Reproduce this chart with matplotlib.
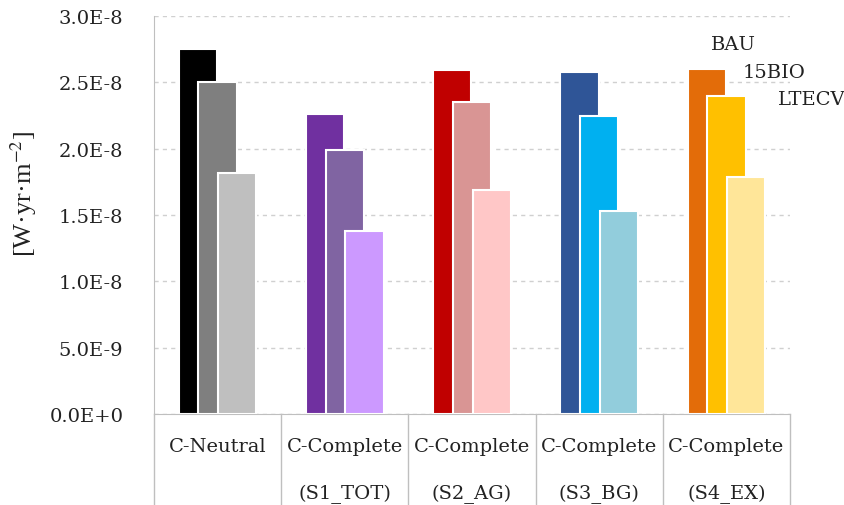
import matplotlib
matplotlib.use("Agg")
import matplotlib.pyplot as plt
import matplotlib.transforms as mtransforms

categories = ["C-Neutral", "C-Complete", "C-Complete", "C-Complete", "C-Complete"]
subtitles = ["", "(S1_TOT)", "(S2_AG)", "(S3_BG)", "(S4_EX)"]
scenarios = ["BAU", "15BIO", "LTECV"]

bau = [2.75e-8, 2.26e-8, 2.59e-8, 2.58e-8, 2.60e-8]
bio15 = [2.50e-8, 1.99e-8, 2.35e-8, 2.25e-8, 2.40e-8]
ltecv = [1.82e-8, 1.38e-8, 1.69e-8, 1.53e-8, 1.79e-8]

colors = [
    ["#000000", "#7f7f7f", "#bfbfbf"],
    ["#7030a0", "#8064a2", "#cc99ff"],
    ["#c00000", "#d99594", "#ffc7c7"],
    ["#2f5597", "#00b0f0", "#92cddc"],
    ["#e36c09", "#ffc000", "#ffe699"],
]

yticks = [0, 0.5e-8, 1.0e-8, 1.5e-8, 2.0e-8, 2.5e-8, 3.0e-8]
ytick_labels = ["0.0E+0", "5.0E-9", "1.0E-8", "1.5E-8", "2.0E-8", "2.5E-8", "3.0E-8"]


def main():
    plt.rcParams["font.family"] = ["DejaVu Serif"]
    plt.rcParams["mathtext.fontset"] = "stix"
    fig = plt.figure(figsize=(8.45, 5.06), dpi=100)
    ax = fig.add_axes([0.1822, 0.1798, 0.7528, 0.7866])

    series = [bau, bio15, ltecv]
    offsets = [-0.155, 0.0, 0.155]
    width = 0.30
    for s, (vals, off) in enumerate(zip(series, offsets)):
        for i, v in enumerate(vals):
            ax.bar(i + off, v, width=width, color=colors[i][s],
                   edgecolor="white", linewidth=1.5, zorder=2 + s)

    ax.set_xlim(-0.5, 4.5)
    ax.set_ylim(0, 3.0e-8)
    ax.set_yticks(yticks)
    ax.set_yticklabels(ytick_labels, fontsize=14, color="#222222")
    ax.tick_params(axis="y", length=0, pad=22)
    ax.set_xticks([])

    ax.grid(axis="y", color="#d0d0d0", linestyle=(0, (3, 3)), linewidth=1, zorder=0)
    ax.set_axisbelow(True)

    for sp in ["top", "right"]:
        ax.spines[sp].set_visible(False)
    ax.spines["left"].set_color("#bfbfbf")
    ax.spines["bottom"].set_color("#bfbfbf")

    # category table lines under the axis
    trans = mtransforms.blended_transform_factory(ax.transData, ax.transAxes)
    for b in [-0.5, 0.5, 1.5, 2.5, 3.5, 4.5]:
        ax.plot([b, b], [0, -0.23], transform=trans, color="#bfbfbf",
                linewidth=1, clip_on=False)

    for i, (c, sub) in enumerate(zip(categories, subtitles)):
        ax.text(i, -0.08, c, transform=trans, ha="center", va="center",
                fontsize=14, color="#222222")
        if sub:
            ax.text(i, -0.2, sub, transform=trans, ha="center", va="center",
                    fontsize=14, color="#222222")

    ax.set_ylabel("[W·yr·m$^{-2}$]", fontsize=19, color="#222222",
                  family="Liberation Serif")
    ax.yaxis.set_label_coords(-0.18, 0.555)

    label_pos = [(733, 45), (774, 73), (812, 100)]
    for name, (x, y) in zip(scenarios, label_pos):
        fig.text(x / 845, 1 - y / 506, name, ha="center", va="center",
                 fontsize=14, color="#222222")

    fig.savefig("out.png", dpi=100)


if __name__ == "__main__":
    main()
